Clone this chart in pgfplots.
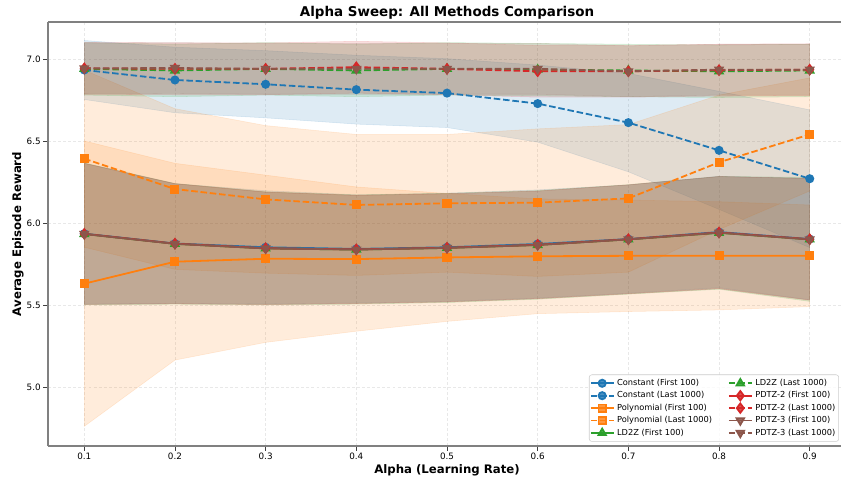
\documentclass[border=0pt]{standalone}
\usepackage{pgfplots}
\pgfplotsset{compat=1.18}
\usepackage{pgfplotstable}
\usepgfplotslibrary{fillbetween}
\usepackage{fontspec}
\setmainfont{DejaVu Sans}

\definecolor{tblue}{HTML}{1F77B4}
\definecolor{torange}{HTML}{FF7F0E}
\definecolor{tgreen}{HTML}{2CA02C}
\definecolor{tred}{HTML}{D62728}
\definecolor{tbrown}{HTML}{8C564B}
\definecolor{spine}{RGB}{128,128,128}
\definecolor{legframe}{RGB}{204,204,204}

% Constant (First 100)
\pgfplotstableread{
x mean lo hi
0.1 5.935 5.505 6.365
0.2 5.875 5.510 6.240
0.3 5.852 5.507 6.197
0.4 5.842 5.512 6.172
0.5 5.852 5.522 6.182
0.6 5.872 5.542 6.202
0.7 5.902 5.572 6.232
0.8 5.945 5.605 6.285
0.9 5.902 5.532 6.272
}\tabCF
% Constant (Last 1000)
\pgfplotstableread{
x mean lo hi
0.1 6.933 6.753 7.113
0.2 6.872 6.672 7.072
0.3 6.846 6.641 7.051
0.4 6.813 6.603 7.023
0.5 6.792 6.582 7.002
0.6 6.728 6.493 6.963
0.7 6.612 6.312 6.912
0.8 6.443 6.083 6.803
0.9 6.270 5.850 6.690
}\tabCL
% Polynomial (First 100)
\pgfplotstableread{
x mean lo hi
0.1 5.630 4.760 6.500
0.2 5.764 5.164 6.364
0.3 5.782 5.272 6.292
0.4 5.780 5.340 6.220
0.5 5.790 5.400 6.180
0.6 5.797 5.447 6.147
0.7 5.800 5.460 6.140
0.8 5.800 5.470 6.130
0.9 5.800 5.490 6.110
}\tabPF
% Polynomial (Last 1000)
\pgfplotstableread{
x mean lo hi
0.1 6.392 5.852 6.932
0.2 6.207 5.717 6.697
0.3 6.144 5.694 6.594
0.4 6.110 5.680 6.540
0.5 6.120 5.700 6.540
0.6 6.124 5.674 6.574
0.7 6.150 5.700 6.600
0.8 6.370 5.960 6.780
0.9 6.540 6.195 6.885
}\tabPL
% LD2Z (First 100)
\pgfplotstableread{
x mean lo hi
0.1 5.933 5.500 6.366
0.2 5.873 5.505 6.241
0.3 5.845 5.500 6.190
0.4 5.838 5.505 6.171
0.5 5.848 5.515 6.181
0.6 5.866 5.535 6.197
0.7 5.900 5.566 6.234
0.8 5.940 5.596 6.284
0.9 5.900 5.522 6.278
}\tabLF
% LD2Z (Last 1000)
\pgfplotstableread{
x mean lo hi
0.1 6.940 6.780 7.100
0.2 6.930 6.770 7.090
0.3 6.940 6.780 7.100
0.4 6.930 6.770 7.090
0.5 6.940 6.780 7.100
0.6 6.935 6.775 7.095
0.7 6.930 6.770 7.090
0.8 6.925 6.765 7.085
0.9 6.930 6.770 7.090
}\tabLL
% PDTZ-2 (First 100)
\pgfplotstableread{
x mean lo hi
0.1 5.934 5.504 6.364
0.2 5.874 5.508 6.240
0.3 5.846 5.503 6.189
0.4 5.839 5.509 6.169
0.5 5.849 5.519 6.179
0.6 5.867 5.539 6.195
0.7 5.901 5.569 6.233
0.8 5.942 5.600 6.284
0.9 5.901 5.530 6.272
}\tabTF
% PDTZ-2 (Last 1000)
\pgfplotstableread{
x mean lo hi
0.1 6.943 6.785 7.101
0.2 6.940 6.782 7.098
0.3 6.940 6.782 7.098
0.4 6.950 6.792 7.108
0.5 6.940 6.782 7.098
0.6 6.925 6.767 7.083
0.7 6.925 6.767 7.083
0.8 6.932 6.774 7.090
0.9 6.935 6.777 7.093
}\tabTL
% PDTZ-3 (First 100)
\pgfplotstableread{
x mean lo hi
0.1 5.933 5.503 6.363
0.2 5.873 5.507 6.239
0.3 5.845 5.502 6.188
0.4 5.838 5.508 6.168
0.5 5.848 5.518 6.178
0.6 5.866 5.538 6.194
0.7 5.900 5.568 6.232
0.8 5.941 5.599 6.283
0.9 5.900 5.529 6.271
}\tabHF
% PDTZ-3 (Last 1000)
\pgfplotstableread{
x mean lo hi
0.1 6.943 6.788 7.098
0.2 6.945 6.790 7.100
0.3 6.940 6.785 7.095
0.4 6.940 6.785 7.095
0.5 6.940 6.785 7.095
0.6 6.940 6.785 7.095
0.7 6.925 6.770 7.080
0.8 6.935 6.780 7.090
0.9 6.935 6.780 7.090
}\tabHL

\newcommand{\band}[3]{%
\addplot[draw=none, forget plot, name path=#2h] table[x=x,y=hi]{#1};
\addplot[draw=none, forget plot, name path=#2l] table[x=x,y=lo]{#1};
\addplot[fill=#3, fill opacity=0.15, draw=#3, draw opacity=0.15, line width=0.4pt, forget plot] fill between[of=#2h and #2l];
}

\pgfplotsset{
  sl/.style={line width=1.35pt},
  dl/.style={line width=1.35pt, dash pattern=on 4.9pt off 2.1pt},
  cfs/.style={sl, tblue, mark=*, mark size=2.7pt, mark options={solid}},
  cls/.style={dl, tblue, mark=*, mark size=2.7pt, mark options={solid}},
  pfs/.style={sl, torange, mark=square*, mark size=2.7pt, mark options={solid}},
  pls/.style={dl, torange, mark=square*, mark size=2.7pt, mark options={solid}},
  lfs/.style={sl, tgreen, mark=triangle*, mark size=3.2pt, mark options={solid}},
  lls/.style={dl, tgreen, mark=triangle*, mark size=3.2pt, mark options={solid}},
  tfs/.style={sl, tred, mark=diamond*, mark size=3.5pt, mark options={solid}},
  tls/.style={dl, tred, mark=diamond*, mark size=3.5pt, mark options={solid}},
  hfs/.style={sl, tbrown, mark=triangle*, mark size=3.2pt, mark options={solid, rotate=180}},
  hls/.style={dl, tbrown, mark=triangle*, mark size=3.2pt, mark options={solid, rotate=180}},
}

\begin{document}
\begin{tikzpicture}
\begin{axis}[
  scale only axis,
  width=598.5pt, height=318pt,
  xmin=0.06, xmax=0.94, ymin=4.6402, ymax=7.2256,
  axis x line*=box, axis y line*=left,
  xtick={0.1,0.2,0.3,0.4,0.5,0.6,0.7,0.8,0.9},
  xticklabels={0.1,0.2,0.3,0.4,0.5,0.6,0.7,0.8,0.9},
  ytick={5,5.5,6,6.5,7},
  yticklabels={5.0,5.5,6.0,6.5,7.0},
  /pgf/number format/assume math mode=true,
  tick align=outside, xtick pos=bottom, ytick pos=left,
  major tick length=3.4pt,
  tick style={black!75, line width=0.6pt},
  axis line style={spine, line width=0.9pt, -},
  grid=major,
  major grid style={gray!18, line width=0.4pt, dash pattern=on 2.2pt off 1.6pt},
  xticklabel style={font=\fontsize{6.6}{8}\selectfont, anchor=base, yshift=-6.6pt},
  yticklabel style={font=\fontsize{6.6}{8}\selectfont, anchor=east, inner sep=0pt, xshift=-1.85pt},
  title={Alpha Sweep: All Methods Comparison},
  title style={at={(axis description cs:0.5,1.01415)}, anchor=base, yshift=-6pt, font=\fontsize{10.1}{12}\selectfont\bfseries},
  xlabel={Alpha (Learning Rate)},
  xlabel style={at={(axis description cs:0.5,-0.066)}, anchor=base, font=\fontsize{8.8}{10}\selectfont\bfseries},
  ylabel={Average Episode Reward},
  ylabel style={at={(axis description cs:-0.0338,0.5)}, rotate=0, anchor=base, font=\fontsize{8.8}{10}\selectfont\bfseries},
  legend columns=2,
  legend cell align=left,
  legend style={at={(axis description cs:1,0)}, anchor=south east, xshift=-5.25pt, yshift=3.2pt,
    font=\fontsize{6.2}{7.4}\selectfont, draw=legframe, rounded corners=2pt,
    fill=white, fill opacity=0.8, text opacity=1, inner xsep=0.5pt, inner ysep=1.3pt,
    row sep=-0.9pt,
    /tikz/every even column/.append style={column sep=10pt}},
]
\band{\tabCF}{cf}{tblue}
\band{\tabCL}{cl}{tblue}
\band{\tabPF}{pf}{torange}
\band{\tabPL}{pl}{torange}
\band{\tabLF}{lf}{tgreen}
\band{\tabLL}{ll}{tgreen}
\band{\tabTF}{tf}{tred}
\band{\tabTL}{tl}{tred}
\band{\tabHF}{hf}{tbrown}
\band{\tabHL}{hl}{tbrown}

\addplot[cfs, forget plot] table[x=x,y=mean]{\tabCF};
\addplot[cls, forget plot] table[x=x,y=mean]{\tabCL};
\addplot[pfs, forget plot] table[x=x,y=mean]{\tabPF};
\addplot[pls, forget plot] table[x=x,y=mean]{\tabPL};
\addplot[lfs, forget plot] table[x=x,y=mean]{\tabLF};
\addplot[lls, forget plot] table[x=x,y=mean]{\tabLL};
\addplot[tfs, forget plot] table[x=x,y=mean]{\tabTF};
\addplot[tls, forget plot] table[x=x,y=mean]{\tabTL};
\addplot[hfs, forget plot] table[x=x,y=mean]{\tabHF};
\addplot[hls, forget plot] table[x=x,y=mean]{\tabHL};

\addlegendimage{cfs}\addlegendentry{Constant (First 100)}
\addlegendimage{lls}\addlegendentry{LD2Z (Last 1000)}
\addlegendimage{cls}\addlegendentry{Constant (Last 1000)}
\addlegendimage{tfs}\addlegendentry{PDTZ-2 (First 100)}
\addlegendimage{pfs}\addlegendentry{Polynomial (First 100)}
\addlegendimage{tls}\addlegendentry{PDTZ-2 (Last 1000)}
\addlegendimage{pls}\addlegendentry{Polynomial (Last 1000)}
\addlegendimage{hfs}\addlegendentry{PDTZ-3 (First 100)}
\addlegendimage{lfs}\addlegendentry{LD2Z (First 100)}
\addlegendimage{hls}\addlegendentry{PDTZ-3 (Last 1000)}
\end{axis}
\pgfresetboundingbox
\useasboundingbox (-36pt,-24.75pt) rectangle (594.75pt,334.5pt);
\end{tikzpicture}
\end{document}
